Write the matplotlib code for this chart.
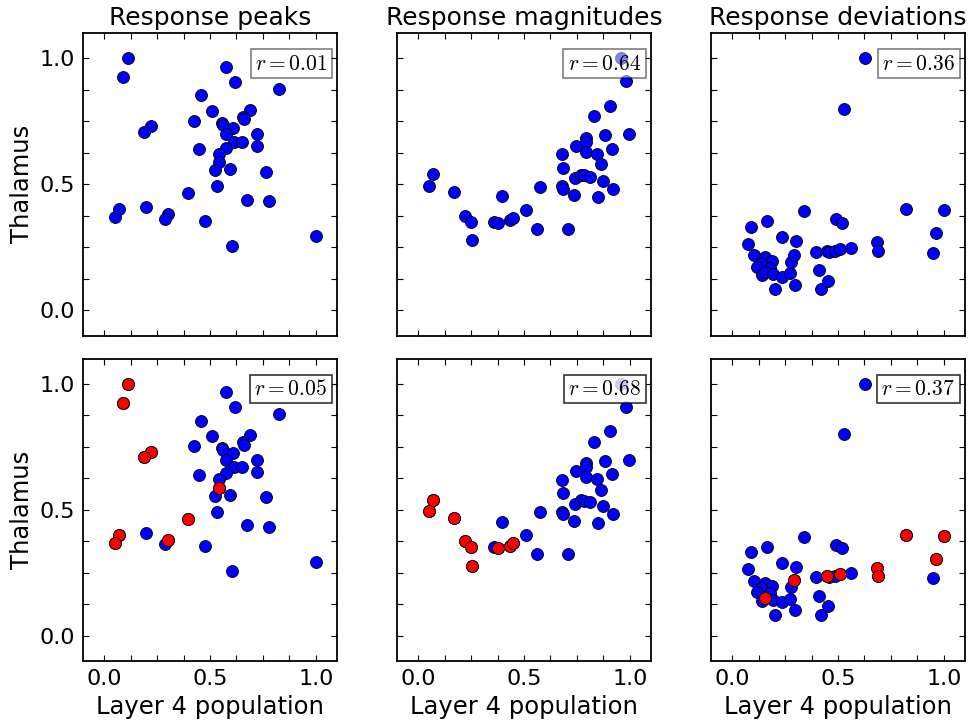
import matplotlib
matplotlib.use('Agg')
import matplotlib.pyplot as plt
from matplotlib.ticker import MultipleLocator, FormatStrFormatter

plt.rcParams['mathtext.fontset'] = 'cm'

titles = ['Response peaks', 'Response magnitudes', 'Response deviations']
r_top = ['0.01', '0.64', '0.36']
r_bottom = ['0.05', '0.68', '0.37']

# response peaks
peaks_x = [0.112, 0.088, 0.574, 0.618, 0.827, 0.459, 0.509, 0.687, 0.425, 0.557,
           0.561, 0.656, 0.660, 0.608, 0.219, 0.189, 0.574, 0.722, 0.612, 0.649,
           0.720, 0.577, 0.447, 0.542, 0.542, 0.524, 0.596, 0.766, 0.533, 0.395,
           0.673, 0.780, 0.068, 0.052, 0.197, 0.302, 0.289, 0.475, 0.605, 1.000]
peaks_y = [0.999, 0.925, 0.967, 0.907, 0.878, 0.854, 0.792, 0.796, 0.751, 0.744,
           0.736, 0.767, 0.758, 0.725, 0.730, 0.709, 0.698, 0.698, 0.669, 0.668,
           0.650, 0.644, 0.638, 0.621, 0.587, 0.556, 0.560, 0.550, 0.493, 0.465,
           0.438, 0.432, 0.401, 0.370, 0.408, 0.381, 0.363, 0.356, 0.256, 0.293]
peaks_sel = [0, 1, 14, 15, 24, 29, 32, 33, 35]

# response magnitudes
mags_x = [0.052, 0.069, 0.170, 0.219, 0.248, 0.256, 0.357, 0.379, 0.396, 0.434,
          0.450, 0.508, 0.563, 0.575, 0.681, 0.682, 0.681, 0.682, 0.709, 0.734,
          0.745, 0.740, 0.767, 0.783, 0.792, 0.791, 0.792, 0.814, 0.830, 0.844,
          0.849, 0.865, 0.874, 0.884, 0.907, 0.914, 0.920, 0.956, 0.980, 0.997]
mags_y = [0.495, 0.539, 0.468, 0.375, 0.352, 0.277, 0.352, 0.348, 0.453, 0.358,
          0.367, 0.399, 0.323, 0.490, 0.620, 0.566, 0.493, 0.483, 0.323, 0.457,
          0.653, 0.523, 0.538, 0.536, 0.685, 0.669, 0.628, 0.530, 0.770, 0.621,
          0.448, 0.579, 0.513, 0.694, 0.811, 0.641, 0.483, 0.999, 0.909, 0.699]
mags_sel = [0, 1, 2, 3, 4, 5, 7, 9, 10]

# response deviations
devs_x = [0.629, 0.527, 0.338, 0.822, 1.000, 0.091, 0.167, 0.489, 0.517, 0.074,
          0.235, 0.303, 0.104, 0.155, 0.186, 0.136, 0.117, 0.180, 0.142, 0.157,
          0.194, 0.237, 0.272, 0.276, 0.292, 0.298, 0.204, 0.396, 0.409, 0.418,
          0.453, 0.450, 0.456, 0.484, 0.508, 0.560, 0.686, 0.691, 0.964, 0.951]
devs_y = [0.999, 0.800, 0.393, 0.401, 0.396, 0.331, 0.354, 0.362, 0.348, 0.264,
          0.290, 0.274, 0.219, 0.211, 0.197, 0.189, 0.173, 0.168, 0.139, 0.150,
          0.144, 0.134, 0.147, 0.193, 0.220, 0.101, 0.083, 0.232, 0.159, 0.083,
          0.118, 0.237, 0.232, 0.236, 0.244, 0.249, 0.269, 0.236, 0.306, 0.228]
devs_sel = [3, 4, 19, 24, 31, 34, 36, 37, 38]

xs = [peaks_x, mags_x, devs_x]
ys = [peaks_y, mags_y, devs_y]
sels = [peaks_sel, mags_sel, devs_sel]

fig, axes = plt.subplots(2, 3, figsize=(9.72, 7.24), dpi=100)
fig.subplots_adjust(left=0.0854, right=0.9928, top=0.9544, bottom=0.087,
                    wspace=0.236, hspace=0.076)

for row in range(2):
    for col in range(3):
        ax = axes[row, col]
        x = xs[col]
        y = ys[col]
        ax.scatter(x, y, s=74, c='blue', edgecolors='black', linewidths=0.6, zorder=2)
        if row == 1:
            sx = [x[i] for i in sels[col]]
            sy = [y[i] for i in sels[col]]
            ax.scatter(sx, sy, s=74, c='red', edgecolors='black', linewidths=0.6, zorder=3)
            rtxt = r_bottom[col]
            alpha = 0.8
        else:
            rtxt = r_top[col]
            alpha = 0.5
        ax.text(0.962, 0.932, '$r = %s$' % rtxt, transform=ax.transAxes,
                ha='right', va='top', fontsize=15.5, zorder=4,
                bbox=dict(boxstyle='square,pad=0.2', facecolor='white',
                          edgecolor='black', linewidth=1.2, alpha=alpha))

        ax.set_xlim(-0.1, 1.1)
        ax.set_ylim(-0.1, 1.1)
        ax.xaxis.set_major_locator(MultipleLocator(0.5))
        ax.yaxis.set_major_locator(MultipleLocator(0.5))
        ax.xaxis.set_minor_locator(MultipleLocator(0.125))
        ax.yaxis.set_minor_locator(MultipleLocator(0.125))
        ax.xaxis.set_major_formatter(FormatStrFormatter('%.1f'))
        ax.yaxis.set_major_formatter(FormatStrFormatter('%.1f'))
        ax.tick_params(which='both', direction='in', top=True, right=True,
                       length=4.5, width=0.8, labelsize=16, pad=6)
        for sp in ax.spines.values():
            sp.set_linewidth(1.3)

        if row == 0:
            ax.set_title(titles[col], fontsize=18)
            ax.tick_params(labelbottom=False)
        else:
            ax.set_xlabel('Layer 4 population', fontsize=17.5)
        if col == 0:
            ax.set_ylabel('Thalamus', fontsize=17.5)
        else:
            ax.tick_params(labelleft=False)

fig.savefig('out.png', dpi=100)
